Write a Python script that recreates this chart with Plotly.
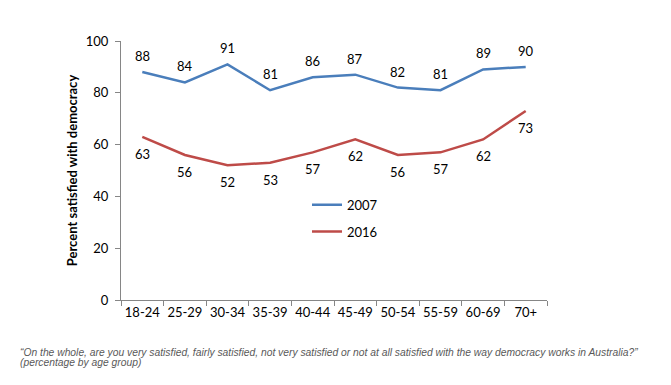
import plotly.graph_objects as go

age_groups = ["18-24", "25-29", "30-34", "35-39", "40-44", "45-49", "50-54", "55-59", "60-69", "70+"]
sat_2007 = [88, 84, 91, 81, 86, 87, 82, 81, 89, 90]
sat_2016 = [63, 56, 52, 53, 57, 62, 56, 57, 62, 73]
y_ticks = [0, 20, 40, 60, 80, 100]

BLUE = "#4a7ebb"
RED = "#be4b48"
FONT = "Lato, Liberation Sans, Arial, sans-serif"

L, R, T, B = 113, 132, 33, 93
PW, PH = 671 - L - R, 385 - T - B

fig = go.Figure()
fig.add_trace(go.Scatter(
    x=age_groups, y=sat_2007, name="2007", mode="lines",
    line=dict(color=BLUE, width=2.5), legendgroup="a",
))
fig.add_trace(go.Scatter(
    x=age_groups, y=sat_2016, name="2016", mode="lines",
    line=dict(color=RED, width=2.5), legendgroup="b",
))

for cat, v in zip(age_groups, sat_2007):
    fig.add_annotation(x=cat, y=v, text=str(v), showarrow=False, yshift=16,
                       font=dict(size=13, color="#000000", family=FONT))
for cat, v in zip(age_groups, sat_2016):
    fig.add_annotation(x=cat, y=v, text=str(v), showarrow=False, yshift=-17,
                       font=dict(size=13, color="#000000", family=FONT))

fig.update_layout(
    width=671, height=385,
    margin=dict(l=L, r=R, t=T, b=B, autoexpand=False),
    paper_bgcolor="white", plot_bgcolor="white",
    font=dict(family=FONT, size=13, color="#000000"),
    showlegend=True,
    legend=dict(x=(299 - L) / PW, y=(385 - B - 181.7) / PH, xanchor="left", yanchor="top",
                bgcolor="rgba(0,0,0,0)", font=dict(size=13, family=FONT),
                tracegroupgap=7, itemwidth=30),
    xaxis=dict(type="category", range=[-0.5, 9.5], showline=True, linecolor="#868686",
               linewidth=1, ticks="outside", tickson="boundaries", ticklen=5,
               tickcolor="#868686", showgrid=False, zeroline=False, tickangle=0,
               automargin=False, tickfont=dict(size=13, family=FONT)),
    yaxis=dict(range=[0, 100], tickvals=y_ticks, showline=True, linecolor="#868686",
               linewidth=1, ticks="outside", ticklen=5, tickcolor="#868686",
               showgrid=False, zeroline=False, tickfont=dict(size=13, family=FONT),
               ticklabelstandoff=4, automargin=False,
               title=dict(text="<b>Percent satisfied with democracy</b>",
                          font=dict(size=13, family=FONT), standoff=5)),
)

caption_lines = [
    "“On the whole, are you very satisfied, fairly satisfied, not very satisfied or not at all satisfied with the way democracy works in Australia?”",
    "(percentage by age group)",
]
for line, py in zip(caption_lines, [344, 354]):
    fig.add_annotation(
        xref="paper", yref="paper", x=(11 - L) / PW, y=(385 - B - py) / PH,
        xanchor="left", yanchor="middle", align="left", showarrow=False,
        text="<i>" + line + "</i>", borderpad=0,
        font=dict(size=10.3, color="#595959", family="Liberation Sans, Arial, sans-serif"),
    )

fig.write_html("out.html")
